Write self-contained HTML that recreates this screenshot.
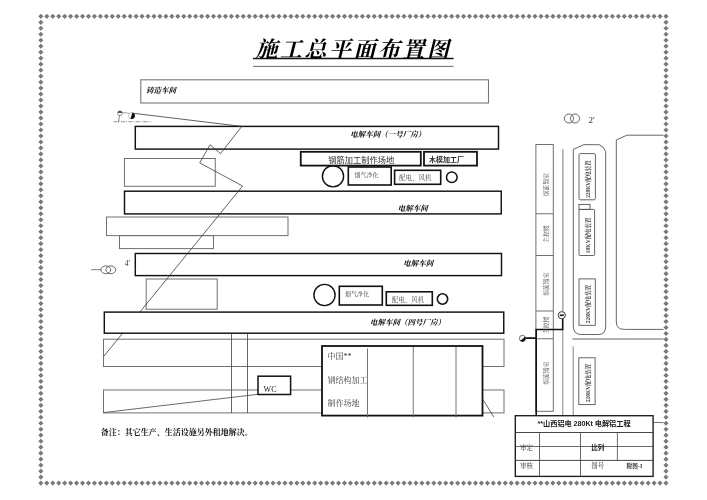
<!DOCTYPE html>
<html lang="zh"><head><meta charset="utf-8"><title>施工总平面布置图</title>
<style>html,body{margin:0;padding:0;background:#fff;font-family:"Liberation Sans",sans-serif}svg{display:block;position:absolute;left:0;top:0;filter:blur(0.3px)}</style></head>
<body>
<svg width="707" height="500" viewBox="0 0 707 500"><path d="M38.51 16.30l2.35 -2.35l2.35 2.35l-2.35 2.35zM38.51 483.10l2.35 -2.35l2.35 2.35l-2.35 2.35zM44.46 16.30l2.35 -2.35l2.35 2.35l-2.35 2.35zM44.46 483.10l2.35 -2.35l2.35 2.35l-2.35 2.35zM50.42 16.30l2.35 -2.35l2.35 2.35l-2.35 2.35zM50.42 483.10l2.35 -2.35l2.35 2.35l-2.35 2.35zM56.37 16.30l2.35 -2.35l2.35 2.35l-2.35 2.35zM56.37 483.10l2.35 -2.35l2.35 2.35l-2.35 2.35zM62.32 16.30l2.35 -2.35l2.35 2.35l-2.35 2.35zM62.32 483.10l2.35 -2.35l2.35 2.35l-2.35 2.35zM68.28 16.30l2.35 -2.35l2.35 2.35l-2.35 2.35zM68.28 483.10l2.35 -2.35l2.35 2.35l-2.35 2.35zM74.23 16.30l2.35 -2.35l2.35 2.35l-2.35 2.35zM74.23 483.10l2.35 -2.35l2.35 2.35l-2.35 2.35zM80.19 16.30l2.35 -2.35l2.35 2.35l-2.35 2.35zM80.19 483.10l2.35 -2.35l2.35 2.35l-2.35 2.35zM86.14 16.30l2.35 -2.35l2.35 2.35l-2.35 2.35zM86.14 483.10l2.35 -2.35l2.35 2.35l-2.35 2.35zM92.09 16.30l2.35 -2.35l2.35 2.35l-2.35 2.35zM92.09 483.10l2.35 -2.35l2.35 2.35l-2.35 2.35zM98.05 16.30l2.35 -2.35l2.35 2.35l-2.35 2.35zM98.05 483.10l2.35 -2.35l2.35 2.35l-2.35 2.35zM104.00 16.30l2.35 -2.35l2.35 2.35l-2.35 2.35zM104.00 483.10l2.35 -2.35l2.35 2.35l-2.35 2.35zM109.95 16.30l2.35 -2.35l2.35 2.35l-2.35 2.35zM109.95 483.10l2.35 -2.35l2.35 2.35l-2.35 2.35zM115.91 16.30l2.35 -2.35l2.35 2.35l-2.35 2.35zM115.91 483.10l2.35 -2.35l2.35 2.35l-2.35 2.35zM121.86 16.30l2.35 -2.35l2.35 2.35l-2.35 2.35zM121.86 483.10l2.35 -2.35l2.35 2.35l-2.35 2.35zM127.82 16.30l2.35 -2.35l2.35 2.35l-2.35 2.35zM127.82 483.10l2.35 -2.35l2.35 2.35l-2.35 2.35zM133.77 16.30l2.35 -2.35l2.35 2.35l-2.35 2.35zM133.77 483.10l2.35 -2.35l2.35 2.35l-2.35 2.35zM139.72 16.30l2.35 -2.35l2.35 2.35l-2.35 2.35zM139.72 483.10l2.35 -2.35l2.35 2.35l-2.35 2.35zM145.68 16.30l2.35 -2.35l2.35 2.35l-2.35 2.35zM145.68 483.10l2.35 -2.35l2.35 2.35l-2.35 2.35zM151.63 16.30l2.35 -2.35l2.35 2.35l-2.35 2.35zM151.63 483.10l2.35 -2.35l2.35 2.35l-2.35 2.35zM157.58 16.30l2.35 -2.35l2.35 2.35l-2.35 2.35zM157.58 483.10l2.35 -2.35l2.35 2.35l-2.35 2.35zM163.54 16.30l2.35 -2.35l2.35 2.35l-2.35 2.35zM163.54 483.10l2.35 -2.35l2.35 2.35l-2.35 2.35zM169.49 16.30l2.35 -2.35l2.35 2.35l-2.35 2.35zM169.49 483.10l2.35 -2.35l2.35 2.35l-2.35 2.35zM175.45 16.30l2.35 -2.35l2.35 2.35l-2.35 2.35zM175.45 483.10l2.35 -2.35l2.35 2.35l-2.35 2.35zM181.40 16.30l2.35 -2.35l2.35 2.35l-2.35 2.35zM181.40 483.10l2.35 -2.35l2.35 2.35l-2.35 2.35zM187.35 16.30l2.35 -2.35l2.35 2.35l-2.35 2.35zM187.35 483.10l2.35 -2.35l2.35 2.35l-2.35 2.35zM193.31 16.30l2.35 -2.35l2.35 2.35l-2.35 2.35zM193.31 483.10l2.35 -2.35l2.35 2.35l-2.35 2.35zM199.26 16.30l2.35 -2.35l2.35 2.35l-2.35 2.35zM199.26 483.10l2.35 -2.35l2.35 2.35l-2.35 2.35zM205.21 16.30l2.35 -2.35l2.35 2.35l-2.35 2.35zM205.21 483.10l2.35 -2.35l2.35 2.35l-2.35 2.35zM211.17 16.30l2.35 -2.35l2.35 2.35l-2.35 2.35zM211.17 483.10l2.35 -2.35l2.35 2.35l-2.35 2.35zM217.12 16.30l2.35 -2.35l2.35 2.35l-2.35 2.35zM217.12 483.10l2.35 -2.35l2.35 2.35l-2.35 2.35zM223.08 16.30l2.35 -2.35l2.35 2.35l-2.35 2.35zM223.08 483.10l2.35 -2.35l2.35 2.35l-2.35 2.35zM229.03 16.30l2.35 -2.35l2.35 2.35l-2.35 2.35zM229.03 483.10l2.35 -2.35l2.35 2.35l-2.35 2.35zM234.98 16.30l2.35 -2.35l2.35 2.35l-2.35 2.35zM234.98 483.10l2.35 -2.35l2.35 2.35l-2.35 2.35zM240.94 16.30l2.35 -2.35l2.35 2.35l-2.35 2.35zM240.94 483.10l2.35 -2.35l2.35 2.35l-2.35 2.35zM246.89 16.30l2.35 -2.35l2.35 2.35l-2.35 2.35zM246.89 483.10l2.35 -2.35l2.35 2.35l-2.35 2.35zM252.84 16.30l2.35 -2.35l2.35 2.35l-2.35 2.35zM252.84 483.10l2.35 -2.35l2.35 2.35l-2.35 2.35zM258.80 16.30l2.35 -2.35l2.35 2.35l-2.35 2.35zM258.80 483.10l2.35 -2.35l2.35 2.35l-2.35 2.35zM264.75 16.30l2.35 -2.35l2.35 2.35l-2.35 2.35zM264.75 483.10l2.35 -2.35l2.35 2.35l-2.35 2.35zM270.70 16.30l2.35 -2.35l2.35 2.35l-2.35 2.35zM270.70 483.10l2.35 -2.35l2.35 2.35l-2.35 2.35zM276.66 16.30l2.35 -2.35l2.35 2.35l-2.35 2.35zM276.66 483.10l2.35 -2.35l2.35 2.35l-2.35 2.35zM282.61 16.30l2.35 -2.35l2.35 2.35l-2.35 2.35zM282.61 483.10l2.35 -2.35l2.35 2.35l-2.35 2.35zM288.57 16.30l2.35 -2.35l2.35 2.35l-2.35 2.35zM288.57 483.10l2.35 -2.35l2.35 2.35l-2.35 2.35zM294.52 16.30l2.35 -2.35l2.35 2.35l-2.35 2.35zM294.52 483.10l2.35 -2.35l2.35 2.35l-2.35 2.35zM300.47 16.30l2.35 -2.35l2.35 2.35l-2.35 2.35zM300.47 483.10l2.35 -2.35l2.35 2.35l-2.35 2.35zM306.43 16.30l2.35 -2.35l2.35 2.35l-2.35 2.35zM306.43 483.10l2.35 -2.35l2.35 2.35l-2.35 2.35zM312.38 16.30l2.35 -2.35l2.35 2.35l-2.35 2.35zM312.38 483.10l2.35 -2.35l2.35 2.35l-2.35 2.35zM318.33 16.30l2.35 -2.35l2.35 2.35l-2.35 2.35zM318.33 483.10l2.35 -2.35l2.35 2.35l-2.35 2.35zM324.29 16.30l2.35 -2.35l2.35 2.35l-2.35 2.35zM324.29 483.10l2.35 -2.35l2.35 2.35l-2.35 2.35zM330.24 16.30l2.35 -2.35l2.35 2.35l-2.35 2.35zM330.24 483.10l2.35 -2.35l2.35 2.35l-2.35 2.35zM336.20 16.30l2.35 -2.35l2.35 2.35l-2.35 2.35zM336.20 483.10l2.35 -2.35l2.35 2.35l-2.35 2.35zM342.15 16.30l2.35 -2.35l2.35 2.35l-2.35 2.35zM342.15 483.10l2.35 -2.35l2.35 2.35l-2.35 2.35zM348.10 16.30l2.35 -2.35l2.35 2.35l-2.35 2.35zM348.10 483.10l2.35 -2.35l2.35 2.35l-2.35 2.35zM354.06 16.30l2.35 -2.35l2.35 2.35l-2.35 2.35zM354.06 483.10l2.35 -2.35l2.35 2.35l-2.35 2.35zM360.01 16.30l2.35 -2.35l2.35 2.35l-2.35 2.35zM360.01 483.10l2.35 -2.35l2.35 2.35l-2.35 2.35zM365.96 16.30l2.35 -2.35l2.35 2.35l-2.35 2.35zM365.96 483.10l2.35 -2.35l2.35 2.35l-2.35 2.35zM371.92 16.30l2.35 -2.35l2.35 2.35l-2.35 2.35zM371.92 483.10l2.35 -2.35l2.35 2.35l-2.35 2.35zM377.87 16.30l2.35 -2.35l2.35 2.35l-2.35 2.35zM377.87 483.10l2.35 -2.35l2.35 2.35l-2.35 2.35zM383.83 16.30l2.35 -2.35l2.35 2.35l-2.35 2.35zM383.83 483.10l2.35 -2.35l2.35 2.35l-2.35 2.35zM389.78 16.30l2.35 -2.35l2.35 2.35l-2.35 2.35zM389.78 483.10l2.35 -2.35l2.35 2.35l-2.35 2.35zM395.73 16.30l2.35 -2.35l2.35 2.35l-2.35 2.35zM395.73 483.10l2.35 -2.35l2.35 2.35l-2.35 2.35zM401.69 16.30l2.35 -2.35l2.35 2.35l-2.35 2.35zM401.69 483.10l2.35 -2.35l2.35 2.35l-2.35 2.35zM407.64 16.30l2.35 -2.35l2.35 2.35l-2.35 2.35zM407.64 483.10l2.35 -2.35l2.35 2.35l-2.35 2.35zM413.59 16.30l2.35 -2.35l2.35 2.35l-2.35 2.35zM413.59 483.10l2.35 -2.35l2.35 2.35l-2.35 2.35zM419.55 16.30l2.35 -2.35l2.35 2.35l-2.35 2.35zM419.55 483.10l2.35 -2.35l2.35 2.35l-2.35 2.35zM425.50 16.30l2.35 -2.35l2.35 2.35l-2.35 2.35zM425.50 483.10l2.35 -2.35l2.35 2.35l-2.35 2.35zM431.46 16.30l2.35 -2.35l2.35 2.35l-2.35 2.35zM431.46 483.10l2.35 -2.35l2.35 2.35l-2.35 2.35zM437.41 16.30l2.35 -2.35l2.35 2.35l-2.35 2.35zM437.41 483.10l2.35 -2.35l2.35 2.35l-2.35 2.35zM443.36 16.30l2.35 -2.35l2.35 2.35l-2.35 2.35zM443.36 483.10l2.35 -2.35l2.35 2.35l-2.35 2.35zM449.32 16.30l2.35 -2.35l2.35 2.35l-2.35 2.35zM449.32 483.10l2.35 -2.35l2.35 2.35l-2.35 2.35zM455.27 16.30l2.35 -2.35l2.35 2.35l-2.35 2.35zM455.27 483.10l2.35 -2.35l2.35 2.35l-2.35 2.35zM461.22 16.30l2.35 -2.35l2.35 2.35l-2.35 2.35zM461.22 483.10l2.35 -2.35l2.35 2.35l-2.35 2.35zM467.18 16.30l2.35 -2.35l2.35 2.35l-2.35 2.35zM467.18 483.10l2.35 -2.35l2.35 2.35l-2.35 2.35zM473.13 16.30l2.35 -2.35l2.35 2.35l-2.35 2.35zM473.13 483.10l2.35 -2.35l2.35 2.35l-2.35 2.35zM479.08 16.30l2.35 -2.35l2.35 2.35l-2.35 2.35zM479.08 483.10l2.35 -2.35l2.35 2.35l-2.35 2.35zM485.04 16.30l2.35 -2.35l2.35 2.35l-2.35 2.35zM485.04 483.10l2.35 -2.35l2.35 2.35l-2.35 2.35zM490.99 16.30l2.35 -2.35l2.35 2.35l-2.35 2.35zM490.99 483.10l2.35 -2.35l2.35 2.35l-2.35 2.35zM496.95 16.30l2.35 -2.35l2.35 2.35l-2.35 2.35zM496.95 483.10l2.35 -2.35l2.35 2.35l-2.35 2.35zM502.90 16.30l2.35 -2.35l2.35 2.35l-2.35 2.35zM502.90 483.10l2.35 -2.35l2.35 2.35l-2.35 2.35zM508.85 16.30l2.35 -2.35l2.35 2.35l-2.35 2.35zM508.85 483.10l2.35 -2.35l2.35 2.35l-2.35 2.35zM514.81 16.30l2.35 -2.35l2.35 2.35l-2.35 2.35zM514.81 483.10l2.35 -2.35l2.35 2.35l-2.35 2.35zM520.76 16.30l2.35 -2.35l2.35 2.35l-2.35 2.35zM520.76 483.10l2.35 -2.35l2.35 2.35l-2.35 2.35zM526.71 16.30l2.35 -2.35l2.35 2.35l-2.35 2.35zM526.71 483.10l2.35 -2.35l2.35 2.35l-2.35 2.35zM532.67 16.30l2.35 -2.35l2.35 2.35l-2.35 2.35zM532.67 483.10l2.35 -2.35l2.35 2.35l-2.35 2.35zM538.62 16.30l2.35 -2.35l2.35 2.35l-2.35 2.35zM538.62 483.10l2.35 -2.35l2.35 2.35l-2.35 2.35zM544.58 16.30l2.35 -2.35l2.35 2.35l-2.35 2.35zM544.58 483.10l2.35 -2.35l2.35 2.35l-2.35 2.35zM550.53 16.30l2.35 -2.35l2.35 2.35l-2.35 2.35zM550.53 483.10l2.35 -2.35l2.35 2.35l-2.35 2.35zM556.48 16.30l2.35 -2.35l2.35 2.35l-2.35 2.35zM556.48 483.10l2.35 -2.35l2.35 2.35l-2.35 2.35zM562.44 16.30l2.35 -2.35l2.35 2.35l-2.35 2.35zM562.44 483.10l2.35 -2.35l2.35 2.35l-2.35 2.35zM568.39 16.30l2.35 -2.35l2.35 2.35l-2.35 2.35zM568.39 483.10l2.35 -2.35l2.35 2.35l-2.35 2.35zM574.34 16.30l2.35 -2.35l2.35 2.35l-2.35 2.35zM574.34 483.10l2.35 -2.35l2.35 2.35l-2.35 2.35zM580.30 16.30l2.35 -2.35l2.35 2.35l-2.35 2.35zM580.30 483.10l2.35 -2.35l2.35 2.35l-2.35 2.35zM586.25 16.30l2.35 -2.35l2.35 2.35l-2.35 2.35zM586.25 483.10l2.35 -2.35l2.35 2.35l-2.35 2.35zM592.21 16.30l2.35 -2.35l2.35 2.35l-2.35 2.35zM592.21 483.10l2.35 -2.35l2.35 2.35l-2.35 2.35zM598.16 16.30l2.35 -2.35l2.35 2.35l-2.35 2.35zM598.16 483.10l2.35 -2.35l2.35 2.35l-2.35 2.35zM604.11 16.30l2.35 -2.35l2.35 2.35l-2.35 2.35zM604.11 483.10l2.35 -2.35l2.35 2.35l-2.35 2.35zM610.07 16.30l2.35 -2.35l2.35 2.35l-2.35 2.35zM610.07 483.10l2.35 -2.35l2.35 2.35l-2.35 2.35zM616.02 16.30l2.35 -2.35l2.35 2.35l-2.35 2.35zM616.02 483.10l2.35 -2.35l2.35 2.35l-2.35 2.35zM621.97 16.30l2.35 -2.35l2.35 2.35l-2.35 2.35zM621.97 483.10l2.35 -2.35l2.35 2.35l-2.35 2.35zM627.93 16.30l2.35 -2.35l2.35 2.35l-2.35 2.35zM627.93 483.10l2.35 -2.35l2.35 2.35l-2.35 2.35zM633.88 16.30l2.35 -2.35l2.35 2.35l-2.35 2.35zM633.88 483.10l2.35 -2.35l2.35 2.35l-2.35 2.35zM639.84 16.30l2.35 -2.35l2.35 2.35l-2.35 2.35zM639.84 483.10l2.35 -2.35l2.35 2.35l-2.35 2.35zM645.79 16.30l2.35 -2.35l2.35 2.35l-2.35 2.35zM645.79 483.10l2.35 -2.35l2.35 2.35l-2.35 2.35zM651.74 16.30l2.35 -2.35l2.35 2.35l-2.35 2.35zM651.74 483.10l2.35 -2.35l2.35 2.35l-2.35 2.35zM657.70 16.30l2.35 -2.35l2.35 2.35l-2.35 2.35zM657.70 483.10l2.35 -2.35l2.35 2.35l-2.35 2.35zM663.65 16.30l2.35 -2.35l2.35 2.35l-2.35 2.35zM663.65 483.10l2.35 -2.35l2.35 2.35l-2.35 2.35zM38.51 22.28l2.35 -2.35l2.35 2.35l-2.35 2.35zM663.65 22.28l2.35 -2.35l2.35 2.35l-2.35 2.35zM38.51 28.27l2.35 -2.35l2.35 2.35l-2.35 2.35zM663.65 28.27l2.35 -2.35l2.35 2.35l-2.35 2.35zM38.51 34.25l2.35 -2.35l2.35 2.35l-2.35 2.35zM663.65 34.25l2.35 -2.35l2.35 2.35l-2.35 2.35zM38.51 40.24l2.35 -2.35l2.35 2.35l-2.35 2.35zM663.65 40.24l2.35 -2.35l2.35 2.35l-2.35 2.35zM38.51 46.22l2.35 -2.35l2.35 2.35l-2.35 2.35zM663.65 46.22l2.35 -2.35l2.35 2.35l-2.35 2.35zM38.51 52.21l2.35 -2.35l2.35 2.35l-2.35 2.35zM663.65 52.21l2.35 -2.35l2.35 2.35l-2.35 2.35zM38.51 58.19l2.35 -2.35l2.35 2.35l-2.35 2.35zM663.65 58.19l2.35 -2.35l2.35 2.35l-2.35 2.35zM38.51 64.18l2.35 -2.35l2.35 2.35l-2.35 2.35zM663.65 64.18l2.35 -2.35l2.35 2.35l-2.35 2.35zM38.51 70.16l2.35 -2.35l2.35 2.35l-2.35 2.35zM663.65 70.16l2.35 -2.35l2.35 2.35l-2.35 2.35zM38.51 76.15l2.35 -2.35l2.35 2.35l-2.35 2.35zM663.65 76.15l2.35 -2.35l2.35 2.35l-2.35 2.35zM38.51 82.13l2.35 -2.35l2.35 2.35l-2.35 2.35zM663.65 82.13l2.35 -2.35l2.35 2.35l-2.35 2.35zM38.51 88.12l2.35 -2.35l2.35 2.35l-2.35 2.35zM663.65 88.12l2.35 -2.35l2.35 2.35l-2.35 2.35zM38.51 94.10l2.35 -2.35l2.35 2.35l-2.35 2.35zM663.65 94.10l2.35 -2.35l2.35 2.35l-2.35 2.35zM38.51 100.08l2.35 -2.35l2.35 2.35l-2.35 2.35zM663.65 100.08l2.35 -2.35l2.35 2.35l-2.35 2.35zM38.51 106.07l2.35 -2.35l2.35 2.35l-2.35 2.35zM663.65 106.07l2.35 -2.35l2.35 2.35l-2.35 2.35zM38.51 112.05l2.35 -2.35l2.35 2.35l-2.35 2.35zM663.65 112.05l2.35 -2.35l2.35 2.35l-2.35 2.35zM38.51 118.04l2.35 -2.35l2.35 2.35l-2.35 2.35zM663.65 118.04l2.35 -2.35l2.35 2.35l-2.35 2.35zM38.51 124.02l2.35 -2.35l2.35 2.35l-2.35 2.35zM663.65 124.02l2.35 -2.35l2.35 2.35l-2.35 2.35zM38.51 130.01l2.35 -2.35l2.35 2.35l-2.35 2.35zM663.65 130.01l2.35 -2.35l2.35 2.35l-2.35 2.35zM38.51 135.99l2.35 -2.35l2.35 2.35l-2.35 2.35zM663.65 135.99l2.35 -2.35l2.35 2.35l-2.35 2.35zM38.51 141.98l2.35 -2.35l2.35 2.35l-2.35 2.35zM663.65 141.98l2.35 -2.35l2.35 2.35l-2.35 2.35zM38.51 147.96l2.35 -2.35l2.35 2.35l-2.35 2.35zM663.65 147.96l2.35 -2.35l2.35 2.35l-2.35 2.35zM38.51 153.95l2.35 -2.35l2.35 2.35l-2.35 2.35zM663.65 153.95l2.35 -2.35l2.35 2.35l-2.35 2.35zM38.51 159.93l2.35 -2.35l2.35 2.35l-2.35 2.35zM663.65 159.93l2.35 -2.35l2.35 2.35l-2.35 2.35zM38.51 165.92l2.35 -2.35l2.35 2.35l-2.35 2.35zM663.65 165.92l2.35 -2.35l2.35 2.35l-2.35 2.35zM38.51 171.90l2.35 -2.35l2.35 2.35l-2.35 2.35zM663.65 171.90l2.35 -2.35l2.35 2.35l-2.35 2.35zM38.51 177.88l2.35 -2.35l2.35 2.35l-2.35 2.35zM663.65 177.88l2.35 -2.35l2.35 2.35l-2.35 2.35zM38.51 183.87l2.35 -2.35l2.35 2.35l-2.35 2.35zM663.65 183.87l2.35 -2.35l2.35 2.35l-2.35 2.35zM38.51 189.85l2.35 -2.35l2.35 2.35l-2.35 2.35zM663.65 189.85l2.35 -2.35l2.35 2.35l-2.35 2.35zM38.51 195.84l2.35 -2.35l2.35 2.35l-2.35 2.35zM663.65 195.84l2.35 -2.35l2.35 2.35l-2.35 2.35zM38.51 201.82l2.35 -2.35l2.35 2.35l-2.35 2.35zM663.65 201.82l2.35 -2.35l2.35 2.35l-2.35 2.35zM38.51 207.81l2.35 -2.35l2.35 2.35l-2.35 2.35zM663.65 207.81l2.35 -2.35l2.35 2.35l-2.35 2.35zM38.51 213.79l2.35 -2.35l2.35 2.35l-2.35 2.35zM663.65 213.79l2.35 -2.35l2.35 2.35l-2.35 2.35zM38.51 219.78l2.35 -2.35l2.35 2.35l-2.35 2.35zM663.65 219.78l2.35 -2.35l2.35 2.35l-2.35 2.35zM38.51 225.76l2.35 -2.35l2.35 2.35l-2.35 2.35zM663.65 225.76l2.35 -2.35l2.35 2.35l-2.35 2.35zM38.51 231.75l2.35 -2.35l2.35 2.35l-2.35 2.35zM663.65 231.75l2.35 -2.35l2.35 2.35l-2.35 2.35zM38.51 237.73l2.35 -2.35l2.35 2.35l-2.35 2.35zM663.65 237.73l2.35 -2.35l2.35 2.35l-2.35 2.35zM38.51 243.72l2.35 -2.35l2.35 2.35l-2.35 2.35zM663.65 243.72l2.35 -2.35l2.35 2.35l-2.35 2.35zM38.51 249.70l2.35 -2.35l2.35 2.35l-2.35 2.35zM663.65 249.70l2.35 -2.35l2.35 2.35l-2.35 2.35zM38.51 255.68l2.35 -2.35l2.35 2.35l-2.35 2.35zM663.65 255.68l2.35 -2.35l2.35 2.35l-2.35 2.35zM38.51 261.67l2.35 -2.35l2.35 2.35l-2.35 2.35zM663.65 261.67l2.35 -2.35l2.35 2.35l-2.35 2.35zM38.51 267.65l2.35 -2.35l2.35 2.35l-2.35 2.35zM663.65 267.65l2.35 -2.35l2.35 2.35l-2.35 2.35zM38.51 273.64l2.35 -2.35l2.35 2.35l-2.35 2.35zM663.65 273.64l2.35 -2.35l2.35 2.35l-2.35 2.35zM38.51 279.62l2.35 -2.35l2.35 2.35l-2.35 2.35zM663.65 279.62l2.35 -2.35l2.35 2.35l-2.35 2.35zM38.51 285.61l2.35 -2.35l2.35 2.35l-2.35 2.35zM663.65 285.61l2.35 -2.35l2.35 2.35l-2.35 2.35zM38.51 291.59l2.35 -2.35l2.35 2.35l-2.35 2.35zM663.65 291.59l2.35 -2.35l2.35 2.35l-2.35 2.35zM38.51 297.58l2.35 -2.35l2.35 2.35l-2.35 2.35zM663.65 297.58l2.35 -2.35l2.35 2.35l-2.35 2.35zM38.51 303.56l2.35 -2.35l2.35 2.35l-2.35 2.35zM663.65 303.56l2.35 -2.35l2.35 2.35l-2.35 2.35zM38.51 309.55l2.35 -2.35l2.35 2.35l-2.35 2.35zM663.65 309.55l2.35 -2.35l2.35 2.35l-2.35 2.35zM38.51 315.53l2.35 -2.35l2.35 2.35l-2.35 2.35zM663.65 315.53l2.35 -2.35l2.35 2.35l-2.35 2.35zM38.51 321.52l2.35 -2.35l2.35 2.35l-2.35 2.35zM663.65 321.52l2.35 -2.35l2.35 2.35l-2.35 2.35zM38.51 327.50l2.35 -2.35l2.35 2.35l-2.35 2.35zM663.65 327.50l2.35 -2.35l2.35 2.35l-2.35 2.35zM38.51 333.48l2.35 -2.35l2.35 2.35l-2.35 2.35zM663.65 333.48l2.35 -2.35l2.35 2.35l-2.35 2.35zM38.51 339.47l2.35 -2.35l2.35 2.35l-2.35 2.35zM663.65 339.47l2.35 -2.35l2.35 2.35l-2.35 2.35zM38.51 345.45l2.35 -2.35l2.35 2.35l-2.35 2.35zM663.65 345.45l2.35 -2.35l2.35 2.35l-2.35 2.35zM38.51 351.44l2.35 -2.35l2.35 2.35l-2.35 2.35zM663.65 351.44l2.35 -2.35l2.35 2.35l-2.35 2.35zM38.51 357.42l2.35 -2.35l2.35 2.35l-2.35 2.35zM663.65 357.42l2.35 -2.35l2.35 2.35l-2.35 2.35zM38.51 363.41l2.35 -2.35l2.35 2.35l-2.35 2.35zM663.65 363.41l2.35 -2.35l2.35 2.35l-2.35 2.35zM38.51 369.39l2.35 -2.35l2.35 2.35l-2.35 2.35zM663.65 369.39l2.35 -2.35l2.35 2.35l-2.35 2.35zM38.51 375.38l2.35 -2.35l2.35 2.35l-2.35 2.35zM663.65 375.38l2.35 -2.35l2.35 2.35l-2.35 2.35zM38.51 381.36l2.35 -2.35l2.35 2.35l-2.35 2.35zM663.65 381.36l2.35 -2.35l2.35 2.35l-2.35 2.35zM38.51 387.35l2.35 -2.35l2.35 2.35l-2.35 2.35zM663.65 387.35l2.35 -2.35l2.35 2.35l-2.35 2.35zM38.51 393.33l2.35 -2.35l2.35 2.35l-2.35 2.35zM663.65 393.33l2.35 -2.35l2.35 2.35l-2.35 2.35zM38.51 399.32l2.35 -2.35l2.35 2.35l-2.35 2.35zM663.65 399.32l2.35 -2.35l2.35 2.35l-2.35 2.35zM38.51 405.30l2.35 -2.35l2.35 2.35l-2.35 2.35zM663.65 405.30l2.35 -2.35l2.35 2.35l-2.35 2.35zM38.51 411.28l2.35 -2.35l2.35 2.35l-2.35 2.35zM663.65 411.28l2.35 -2.35l2.35 2.35l-2.35 2.35zM38.51 417.27l2.35 -2.35l2.35 2.35l-2.35 2.35zM663.65 417.27l2.35 -2.35l2.35 2.35l-2.35 2.35zM38.51 423.25l2.35 -2.35l2.35 2.35l-2.35 2.35zM663.65 423.25l2.35 -2.35l2.35 2.35l-2.35 2.35zM38.51 429.24l2.35 -2.35l2.35 2.35l-2.35 2.35zM663.65 429.24l2.35 -2.35l2.35 2.35l-2.35 2.35zM38.51 435.22l2.35 -2.35l2.35 2.35l-2.35 2.35zM663.65 435.22l2.35 -2.35l2.35 2.35l-2.35 2.35zM38.51 441.21l2.35 -2.35l2.35 2.35l-2.35 2.35zM663.65 441.21l2.35 -2.35l2.35 2.35l-2.35 2.35zM38.51 447.19l2.35 -2.35l2.35 2.35l-2.35 2.35zM663.65 447.19l2.35 -2.35l2.35 2.35l-2.35 2.35zM38.51 453.18l2.35 -2.35l2.35 2.35l-2.35 2.35zM663.65 453.18l2.35 -2.35l2.35 2.35l-2.35 2.35zM38.51 459.16l2.35 -2.35l2.35 2.35l-2.35 2.35zM663.65 459.16l2.35 -2.35l2.35 2.35l-2.35 2.35zM38.51 465.15l2.35 -2.35l2.35 2.35l-2.35 2.35zM663.65 465.15l2.35 -2.35l2.35 2.35l-2.35 2.35zM38.51 471.13l2.35 -2.35l2.35 2.35l-2.35 2.35zM663.65 471.13l2.35 -2.35l2.35 2.35l-2.35 2.35zM38.51 477.12l2.35 -2.35l2.35 2.35l-2.35 2.35zM663.65 477.12l2.35 -2.35l2.35 2.35l-2.35 2.35z" fill="#707070" stroke="#707070" stroke-width="0.3" stroke-linejoin="round"/>
<path d="M40.86 16.30h0M40.86 483.10h0M46.81 16.30h0M46.81 483.10h0M52.77 16.30h0M52.77 483.10h0M58.72 16.30h0M58.72 483.10h0M64.67 16.30h0M64.67 483.10h0M70.63 16.30h0M70.63 483.10h0M76.58 16.30h0M76.58 483.10h0M82.54 16.30h0M82.54 483.10h0M88.49 16.30h0M88.49 483.10h0M94.44 16.30h0M94.44 483.10h0M100.40 16.30h0M100.40 483.10h0M106.35 16.30h0M106.35 483.10h0M112.30 16.30h0M112.30 483.10h0M118.26 16.30h0M118.26 483.10h0M124.21 16.30h0M124.21 483.10h0M130.17 16.30h0M130.17 483.10h0M136.12 16.30h0M136.12 483.10h0M142.07 16.30h0M142.07 483.10h0M148.03 16.30h0M148.03 483.10h0M153.98 16.30h0M153.98 483.10h0M159.93 16.30h0M159.93 483.10h0M165.89 16.30h0M165.89 483.10h0M171.84 16.30h0M171.84 483.10h0M177.80 16.30h0M177.80 483.10h0M183.75 16.30h0M183.75 483.10h0M189.70 16.30h0M189.70 483.10h0M195.66 16.30h0M195.66 483.10h0M201.61 16.30h0M201.61 483.10h0M207.56 16.30h0M207.56 483.10h0M213.52 16.30h0M213.52 483.10h0M219.47 16.30h0M219.47 483.10h0M225.43 16.30h0M225.43 483.10h0M231.38 16.30h0M231.38 483.10h0M237.33 16.30h0M237.33 483.10h0M243.29 16.30h0M243.29 483.10h0M249.24 16.30h0M249.24 483.10h0M255.19 16.30h0M255.19 483.10h0M261.15 16.30h0M261.15 483.10h0M267.10 16.30h0M267.10 483.10h0M273.05 16.30h0M273.05 483.10h0M279.01 16.30h0M279.01 483.10h0M284.96 16.30h0M284.96 483.10h0M290.92 16.30h0M290.92 483.10h0M296.87 16.30h0M296.87 483.10h0M302.82 16.30h0M302.82 483.10h0M308.78 16.30h0M308.78 483.10h0M314.73 16.30h0M314.73 483.10h0M320.68 16.30h0M320.68 483.10h0M326.64 16.30h0M326.64 483.10h0M332.59 16.30h0M332.59 483.10h0M338.55 16.30h0M338.55 483.10h0M344.50 16.30h0M344.50 483.10h0M350.45 16.30h0M350.45 483.10h0M356.41 16.30h0M356.41 483.10h0M362.36 16.30h0M362.36 483.10h0M368.31 16.30h0M368.31 483.10h0M374.27 16.30h0M374.27 483.10h0M380.22 16.30h0M380.22 483.10h0M386.18 16.30h0M386.18 483.10h0M392.13 16.30h0M392.13 483.10h0M398.08 16.30h0M398.08 483.10h0M404.04 16.30h0M404.04 483.10h0M409.99 16.30h0M409.99 483.10h0M415.94 16.30h0M415.94 483.10h0M421.90 16.30h0M421.90 483.10h0M427.85 16.30h0M427.85 483.10h0M433.81 16.30h0M433.81 483.10h0M439.76 16.30h0M439.76 483.10h0M445.71 16.30h0M445.71 483.10h0M451.67 16.30h0M451.67 483.10h0M457.62 16.30h0M457.62 483.10h0M463.57 16.30h0M463.57 483.10h0M469.53 16.30h0M469.53 483.10h0M475.48 16.30h0M475.48 483.10h0M481.43 16.30h0M481.43 483.10h0M487.39 16.30h0M487.39 483.10h0M493.34 16.30h0M493.34 483.10h0M499.30 16.30h0M499.30 483.10h0M505.25 16.30h0M505.25 483.10h0M511.20 16.30h0M511.20 483.10h0M517.16 16.30h0M517.16 483.10h0M523.11 16.30h0M523.11 483.10h0M529.06 16.30h0M529.06 483.10h0M535.02 16.30h0M535.02 483.10h0M540.97 16.30h0M540.97 483.10h0M546.93 16.30h0M546.93 483.10h0M552.88 16.30h0M552.88 483.10h0M558.83 16.30h0M558.83 483.10h0M564.79 16.30h0M564.79 483.10h0M570.74 16.30h0M570.74 483.10h0M576.69 16.30h0M576.69 483.10h0M582.65 16.30h0M582.65 483.10h0M588.60 16.30h0M588.60 483.10h0M594.56 16.30h0M594.56 483.10h0M600.51 16.30h0M600.51 483.10h0M606.46 16.30h0M606.46 483.10h0M612.42 16.30h0M612.42 483.10h0M618.37 16.30h0M618.37 483.10h0M624.32 16.30h0M624.32 483.10h0M630.28 16.30h0M630.28 483.10h0M636.23 16.30h0M636.23 483.10h0M642.19 16.30h0M642.19 483.10h0M648.14 16.30h0M648.14 483.10h0M654.09 16.30h0M654.09 483.10h0M660.05 16.30h0M660.05 483.10h0M666.00 16.30h0M666.00 483.10h0M40.86 22.28h0M666.00 22.28h0M40.86 28.27h0M666.00 28.27h0M40.86 34.25h0M666.00 34.25h0M40.86 40.24h0M666.00 40.24h0M40.86 46.22h0M666.00 46.22h0M40.86 52.21h0M666.00 52.21h0M40.86 58.19h0M666.00 58.19h0M40.86 64.18h0M666.00 64.18h0M40.86 70.16h0M666.00 70.16h0M40.86 76.15h0M666.00 76.15h0M40.86 82.13h0M666.00 82.13h0M40.86 88.12h0M666.00 88.12h0M40.86 94.10h0M666.00 94.10h0M40.86 100.08h0M666.00 100.08h0M40.86 106.07h0M666.00 106.07h0M40.86 112.05h0M666.00 112.05h0M40.86 118.04h0M666.00 118.04h0M40.86 124.02h0M666.00 124.02h0M40.86 130.01h0M666.00 130.01h0M40.86 135.99h0M666.00 135.99h0M40.86 141.98h0M666.00 141.98h0M40.86 147.96h0M666.00 147.96h0M40.86 153.95h0M666.00 153.95h0M40.86 159.93h0M666.00 159.93h0M40.86 165.92h0M666.00 165.92h0M40.86 171.90h0M666.00 171.90h0M40.86 177.88h0M666.00 177.88h0M40.86 183.87h0M666.00 183.87h0M40.86 189.85h0M666.00 189.85h0M40.86 195.84h0M666.00 195.84h0M40.86 201.82h0M666.00 201.82h0M40.86 207.81h0M666.00 207.81h0M40.86 213.79h0M666.00 213.79h0M40.86 219.78h0M666.00 219.78h0M40.86 225.76h0M666.00 225.76h0M40.86 231.75h0M666.00 231.75h0M40.86 237.73h0M666.00 237.73h0M40.86 243.72h0M666.00 243.72h0M40.86 249.70h0M666.00 249.70h0M40.86 255.68h0M666.00 255.68h0M40.86 261.67h0M666.00 261.67h0M40.86 267.65h0M666.00 267.65h0M40.86 273.64h0M666.00 273.64h0M40.86 279.62h0M666.00 279.62h0M40.86 285.61h0M666.00 285.61h0M40.86 291.59h0M666.00 291.59h0M40.86 297.58h0M666.00 297.58h0M40.86 303.56h0M666.00 303.56h0M40.86 309.55h0M666.00 309.55h0M40.86 315.53h0M666.00 315.53h0M40.86 321.52h0M666.00 321.52h0M40.86 327.50h0M666.00 327.50h0M40.86 333.48h0M666.00 333.48h0M40.86 339.47h0M666.00 339.47h0M40.86 345.45h0M666.00 345.45h0M40.86 351.44h0M666.00 351.44h0M40.86 357.42h0M666.00 357.42h0M40.86 363.41h0M666.00 363.41h0M40.86 369.39h0M666.00 369.39h0M40.86 375.38h0M666.00 375.38h0M40.86 381.36h0M666.00 381.36h0M40.86 387.35h0M666.00 387.35h0M40.86 393.33h0M666.00 393.33h0M40.86 399.32h0M666.00 399.32h0M40.86 405.30h0M666.00 405.30h0M40.86 411.28h0M666.00 411.28h0M40.86 417.27h0M666.00 417.27h0M40.86 423.25h0M666.00 423.25h0M40.86 429.24h0M666.00 429.24h0M40.86 435.22h0M666.00 435.22h0M40.86 441.21h0M666.00 441.21h0M40.86 447.19h0M666.00 447.19h0M40.86 453.18h0M666.00 453.18h0M40.86 459.16h0M666.00 459.16h0M40.86 465.15h0M666.00 465.15h0M40.86 471.13h0M666.00 471.13h0M40.86 477.12h0M666.00 477.12h0" fill="none" stroke="#9a9a9a" stroke-width="1.1" stroke-linecap="round"/>
<rect x="140.80" y="79.80" width="347.70" height="23.20" fill="none" stroke="#777" stroke-width="1.10"/>
<rect x="124.50" y="158.50" width="90.75" height="27.80" fill="none" stroke="#707070" stroke-width="1.00"/>
<rect x="106.50" y="217.00" width="181.50" height="18.60" fill="none" stroke="#707070" stroke-width="1.00"/>
<rect x="119.50" y="235.60" width="94.00" height="13.00" fill="none" stroke="#707070" stroke-width="1.00"/>
<rect x="146.20" y="279.00" width="71.00" height="30.25" fill="none" stroke="#707070" stroke-width="1.00"/>
<rect x="103.50" y="339.20" width="400.50" height="27.30" fill="none" stroke="#707070" stroke-width="1.00"/>
<rect x="103.50" y="390.00" width="400.50" height="22.90" fill="none" stroke="#707070" stroke-width="1.00"/>
<rect x="135.30" y="126.40" width="363.20" height="22.70" fill="none" stroke="#111" stroke-width="1.45"/>
<rect x="124.50" y="191.20" width="376.75" height="22.70" fill="none" stroke="#111" stroke-width="1.45"/>
<rect x="135.30" y="253.50" width="366.20" height="22.10" fill="none" stroke="#111" stroke-width="1.45"/>
<polyline points="133.50,113.30 241.80,126.40 220.50,153.60 210.10,144.80 199.70,162.90 242.60,186.00 103.50,356.70" fill="none" stroke="#3a3a3a" stroke-width="0.80"/>
<rect x="104.30" y="312.10" width="399.45" height="21.10" fill="#fff" stroke="#111" stroke-width="1.45"/>
<line x1="231.50" y1="333.90" x2="231.50" y2="413.00" stroke="#555" stroke-width="0.90"/>
<line x1="247.50" y1="333.90" x2="247.50" y2="413.00" stroke="#555" stroke-width="0.90"/>
<line x1="103.50" y1="412.60" x2="258.00" y2="394.30" stroke="#444" stroke-width="0.80"/>
<rect x="258.00" y="376.20" width="32.60" height="18.30" fill="#fff" stroke="#111" stroke-width="1.50"/>
<rect x="322.00" y="346.00" width="160.50" height="69.60" fill="#fff" stroke="#111" stroke-width="1.80"/>
<line x1="367.50" y1="348.50" x2="367.50" y2="417.50" stroke="#666" stroke-width="0.90"/>
<line x1="413.25" y1="347.00" x2="413.25" y2="417.30" stroke="#666" stroke-width="0.90"/>
<line x1="456.00" y1="347.00" x2="456.00" y2="417.60" stroke="#666" stroke-width="0.90"/>
<line x1="482.50" y1="398.75" x2="493.75" y2="417.00" stroke="#555" stroke-width="0.90"/>
<rect x="300.75" y="151.80" width="120.05" height="13.80" fill="none" stroke="#111" stroke-width="1.80"/>
<rect x="424.00" y="151.80" width="53.00" height="13.80" fill="none" stroke="#111" stroke-width="1.80"/>
<circle cx="333.00" cy="176.30" r="10.60" fill="none" stroke="#111" stroke-width="1.40"/>
<rect x="348.30" y="167.00" width="42.90" height="18.00" fill="none" stroke="#111" stroke-width="1.60"/>
<rect x="394.60" y="170.30" width="46.10" height="14.00" fill="none" stroke="#111" stroke-width="1.60"/>
<circle cx="451.80" cy="177.30" r="5.30" fill="none" stroke="#111" stroke-width="1.50"/>
<circle cx="324.50" cy="295.00" r="10.60" fill="none" stroke="#111" stroke-width="1.40"/>
<rect x="339.30" y="286.30" width="43.00" height="18.70" fill="none" stroke="#111" stroke-width="1.60"/>
<rect x="386.30" y="291.80" width="46.00" height="13.50" fill="none" stroke="#111" stroke-width="1.60"/>
<circle cx="442.50" cy="299.00" r="5.20" fill="none" stroke="#111" stroke-width="1.60"/>
<rect x="535.90" y="144.50" width="17.40" height="266.80" fill="none" stroke="#707070" stroke-width="1.00"/>
<line x1="535.90" y1="213.75" x2="553.30" y2="213.75" stroke="#707070" stroke-width="1.00"/>
<line x1="535.90" y1="255.50" x2="553.30" y2="255.50" stroke="#707070" stroke-width="1.00"/>
<line x1="535.90" y1="311.00" x2="553.30" y2="311.00" stroke="#707070" stroke-width="1.00"/>
<line x1="535.90" y1="338.75" x2="553.30" y2="338.75" stroke="#707070" stroke-width="1.00"/>
<line x1="562.90" y1="149.30" x2="562.90" y2="311.50" stroke="#666" stroke-width="0.90"/>
<line x1="562.80" y1="329.50" x2="562.80" y2="415.70" stroke="#777" stroke-width="0.90"/>
<path d="M573.3 326V149.3L583.8 144.7H599.2Q603.6 146.2 605.7 151.5V326Q605.7 334.5 598.4 334.5H581.3Q573.3 334.5 573.3 326" fill="none" stroke="#555" stroke-width="0.90"/>
<path d="M663.5 135.2H626.9L616.3 139.9V322Q616.3 329.4 624.4 329.4H663.5" fill="none" stroke="#555" stroke-width="0.90"/>
<line x1="572.40" y1="339.00" x2="663.50" y2="339.00" stroke="#666" stroke-width="1.10"/>
<line x1="573.20" y1="346.30" x2="573.20" y2="415.70" stroke="#777" stroke-width="0.90"/>
<line x1="653.10" y1="422.50" x2="663.50" y2="422.50" stroke="#666" stroke-width="0.90"/>
<rect x="579.00" y="153.60" width="16.40" height="46.20" fill="none" stroke="#555" stroke-width="0.90" rx="1.3"/>
<rect x="579.00" y="204.40" width="11.00" height="5.00" fill="none" stroke="#555" stroke-width="0.90"/>
<rect x="579.00" y="209.40" width="15.60" height="46.10" fill="none" stroke="#555" stroke-width="0.90" rx="0.8"/>
<rect x="579.00" y="278.90" width="16.30" height="46.40" fill="none" stroke="#555" stroke-width="0.90"/>
<rect x="578.80" y="357.80" width="16.30" height="46.80" fill="none" stroke="#555" stroke-width="0.90"/>
<path d="M525.5 338.1H536.2M562.7 318.8V329.5H536.2V415.7" fill="none" stroke="#111" stroke-width="1.60"/>
<circle cx="522.50" cy="338.40" r="3.10" fill="#fff" stroke="#333" stroke-width="0.70"/>
<path d="M524.9 336.4A3.2 3.2 0 0 1 520.1 340.6Q522.6 339.6 524.9 336.4Z" fill="#111" stroke="none" stroke-width="0.00"/>
<circle cx="561.80" cy="315.20" r="3.60" fill="#fff" stroke="#222" stroke-width="0.90"/>
<rect x="559.80" y="314.40" width="4.10" height="1.70" fill="#222" stroke="none" stroke-width="0.00"/>
<ellipse cx="568.90" cy="118.50" rx="4.60" ry="4.50" fill="none" stroke="#444" stroke-width="0.80"/>
<ellipse cx="575.00" cy="118.50" rx="4.60" ry="4.50" fill="none" stroke="#444" stroke-width="0.80"/>
<ellipse cx="105.80" cy="269.80" rx="4.90" ry="3.90" fill="none" stroke="#444" stroke-width="0.80"/>
<ellipse cx="110.80" cy="269.80" rx="4.90" ry="3.90" fill="none" stroke="#444" stroke-width="0.80"/>
<line x1="91.20" y1="269.70" x2="100.90" y2="269.70" stroke="#555" stroke-width="0.80"/>
<circle cx="119.90" cy="113.30" r="2.30" fill="#fff" stroke="#555" stroke-width="0.60"/>
<path d="M117.6 113.1A2.3 2.3 0 0 1 122.2 113.1Z" fill="#555" stroke="none" stroke-width="0.00"/>
<line x1="119.60" y1="115.60" x2="118.40" y2="122.00" stroke="#555" stroke-width="0.70"/>
<line x1="122.00" y1="112.40" x2="130.00" y2="113.40" stroke="#666" stroke-width="0.60"/>
<circle cx="131.70" cy="115.70" r="3.10" fill="#fff" stroke="#888" stroke-width="0.50"/>
<path d="M132.39 112.47A3.3 3.3 0 1 1 130.46 118.76Z" fill="#111" stroke="none" stroke-width="0.00"/>
<line x1="113.50" y1="121.70" x2="151.30" y2="121.70" stroke="#666" stroke-width="0.70" stroke-dasharray="4 1.2 1 1.2"/>
<rect x="515.30" y="415.70" width="137.80" height="60.70" fill="#fff" stroke="#222" stroke-width="1.40"/>
<line x1="515.30" y1="432.50" x2="653.10" y2="432.50" stroke="#333" stroke-width="0.90"/>
<line x1="515.30" y1="446.50" x2="653.10" y2="446.50" stroke="#444" stroke-width="0.80"/>
<line x1="515.30" y1="460.40" x2="653.10" y2="460.40" stroke="#333" stroke-width="0.90"/>
<line x1="539.50" y1="432.50" x2="539.50" y2="476.40" stroke="#444" stroke-width="0.80"/>
<line x1="580.50" y1="432.50" x2="580.50" y2="476.40" stroke="#444" stroke-width="0.80"/>
<line x1="617.40" y1="432.50" x2="617.40" y2="460.40" stroke="#444" stroke-width="0.80"/>
<text x="353.5" y="56.5" text-anchor="middle" font-size="22" font-weight="bold" font-style="italic" letter-spacing="2.5" fill="#000" font-family="'Liberation Serif','Noto Serif CJK SC',serif">施工总平面布置图</text>
<line x1="253.00" y1="58.40" x2="453.60" y2="58.40" stroke="#111" stroke-width="1.50"/>
<line x1="253.00" y1="66.40" x2="453.60" y2="66.40" stroke="#444" stroke-width="0.80"/>
<text x="146" y="92.6" font-size="7.5" font-weight="bold" font-style="italic" fill="#000" font-family="'Liberation Serif','Noto Serif CJK SC',serif">铸造车间</text>
<text x="350.3" y="136.8" font-size="7.5" font-weight="bold" font-style="italic" fill="#000" font-family="'Liberation Serif','Noto Serif CJK SC',serif">电解车间（一号厂房）</text>
<text x="397.7" y="211" font-size="7.5" font-weight="bold" font-style="italic" fill="#000" font-family="'Liberation Serif','Noto Serif CJK SC',serif">电解车间</text>
<text x="403.2" y="266.2" font-size="7.5" font-weight="bold" font-style="italic" fill="#000" font-family="'Liberation Serif','Noto Serif CJK SC',serif">电解车间</text>
<text x="370" y="325.1" font-size="7.5" font-weight="bold" font-style="italic" fill="#000" font-family="'Liberation Serif','Noto Serif CJK SC',serif">电解车间（四号厂房）</text>
<text x="328.3" y="162.6" font-size="8.25" fill="#333" font-family="'Liberation Sans','Noto Sans CJK SC',sans-serif">钢筋加工制作场地</text>
<text x="429" y="162.4" font-size="7" font-weight="bold" fill="#2a2a2a" font-family="'Liberation Sans','Noto Sans CJK SC',sans-serif">木模加工厂</text>
<text x="354.5" y="177" font-size="6" fill="#4a4a4a" font-family="'Liberation Serif','Noto Serif CJK SC',serif">烟气净化</text>
<text x="398.9" y="180.1" font-size="6.5" fill="#4a4a4a" font-family="'Liberation Serif','Noto Serif CJK SC',serif">配电、风机</text>
<text x="345.1" y="296.1" font-size="6" fill="#4a4a4a" font-family="'Liberation Serif','Noto Serif CJK SC',serif">烟气净化</text>
<text x="391.7" y="302.1" font-size="6.5" fill="#4a4a4a" font-family="'Liberation Serif','Noto Serif CJK SC',serif">配电、风机</text>
<text x="327.5" y="359.3" font-size="8" fill="#3a3a3a" font-family="'Liberation Serif','Noto Serif CJK SC',serif">中国**</text>
<text x="327.5" y="382.5" font-size="8" fill="#3a3a3a" font-family="'Liberation Serif','Noto Serif CJK SC',serif">钢结构加工</text>
<text x="327.5" y="405.8" font-size="8" fill="#3a3a3a" font-family="'Liberation Serif','Noto Serif CJK SC',serif">制作场地</text>
<text x="263.6" y="391.5" font-size="8" fill="#222" font-family="'Liberation Serif',serif">WC</text>
<text x="100.8" y="435" font-size="8" font-weight="bold" fill="#111" font-family="'Liberation Serif','Noto Serif CJK SC',serif">备注：其它生产、生活设施另外租地解决。</text>
<text x="588.5" y="123.4" font-size="9" fill="#333" font-family="'Liberation Serif',serif">2'</text>
<text x="124.7" y="265.5" font-size="7.5" fill="#333" font-family="'Liberation Serif',serif">4'</text>
<text transform="translate(548,196.6) rotate(-90)" font-size="5.9" fill="#4a4a4a" font-family="'Liberation Serif','Noto Serif CJK SC',serif">烟流器室</text>
<text transform="translate(547.6,243) rotate(-90)" font-size="5.9" fill="#4a4a4a" font-family="'Liberation Serif','Noto Serif CJK SC',serif">主控楼</text>
<text transform="translate(547.9,296) rotate(-90)" font-size="5.9" fill="#4a4a4a" font-family="'Liberation Serif','Noto Serif CJK SC',serif">烟流器室</text>
<text transform="translate(548,334.2) rotate(-90)" font-size="5.9" fill="#4a4a4a" font-family="'Liberation Serif','Noto Serif CJK SC',serif">主控楼</text>
<text transform="translate(547.9,385) rotate(-90)" font-size="5.9" fill="#4a4a4a" font-family="'Liberation Serif','Noto Serif CJK SC',serif">烟流器室</text>
<text transform="translate(590.2,197.8) rotate(-90)" font-size="5.4" font-weight="bold" fill="#444" textLength="37.4" font-family="'Liberation Serif','Noto Serif CJK SC',serif">220KV配电装置</text>
<text transform="translate(590,253.2) rotate(-90)" font-size="5.4" font-weight="bold" fill="#444" textLength="35.7" font-family="'Liberation Serif','Noto Serif CJK SC',serif">10KV配电装置</text>
<text transform="translate(590.2,323.2) rotate(-90)" font-size="5.4" font-weight="bold" fill="#444" textLength="38.3" font-family="'Liberation Serif','Noto Serif CJK SC',serif">220KV配电装置</text>
<text transform="translate(590.2,402.2) rotate(-90)" font-size="5.4" font-weight="bold" fill="#444" textLength="38.3" font-family="'Liberation Serif','Noto Serif CJK SC',serif">220KV配电装置</text>
<text x="537.6" y="426.4" font-size="7.2" font-weight="bold" fill="#1a1a1a" textLength="93" font-family="'Liberation Sans','Noto Sans CJK SC',sans-serif">**山西铝电 280Kt 电解铝工程</text>
<text x="520.1" y="449.6" font-size="6.5" fill="#333" font-family="'Liberation Serif','Noto Serif CJK SC',serif">审定</text>
<text x="591.3" y="449.6" font-size="6.5" font-weight="bold" fill="#222" font-family="'Liberation Sans','Noto Sans CJK SC',sans-serif">比列</text>
<text x="520.1" y="468.2" font-size="6.5" fill="#333" font-family="'Liberation Serif','Noto Serif CJK SC',serif">审核</text>
<text x="591.3" y="468.1" font-size="6.5" fill="#333" font-family="'Liberation Serif','Noto Serif CJK SC',serif">图号</text>
<text x="626.6" y="468.4" font-size="5.6" font-weight="bold" fill="#111" font-family="'Liberation Serif','Noto Serif CJK SC',serif">附图-1</text></svg>
</body></html>
